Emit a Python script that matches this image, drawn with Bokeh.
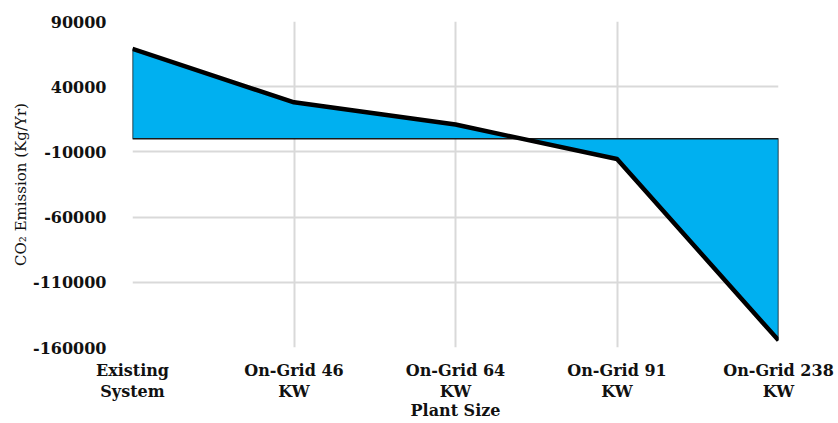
from bokeh.plotting import figure
from bokeh.models import FixedTicker, Range1d
from bokeh.embed import file_html
from bokeh.resources import INLINE

categories = ["Existing\nSystem", "On-Grid 46\nKW", "On-Grid 64\nKW", "On-Grid 91\nKW", "On-Grid 238\nKW"]
emissions = [69000, 28000, 11000, -15500, -154500]
y_ticks = [-160000, -110000, -60000, -10000, 40000, 90000]

xs = list(range(len(categories)))

p = figure(width=838, height=423, output_backend="svg", toolbar_location=None,
           x_range=Range1d(0, len(categories) - 1), y_range=Range1d(-160000, 90000),
           min_border_left=132, min_border_right=60, min_border_top=21, min_border_bottom=76)
p.outline_line_color = None

# area polygon between series and zero baseline
px = [xs[0]] + xs + [xs[-1]]
py = [0] + emissions + [0]
p.patch(px, py, fill_color="#00B0F0", line_color="#1a1a1a", line_width=1.5)
p.line(xs, emissions, line_color="black", line_width=4.5, line_join="round")

FONT = "DejaVu Serif"
p.xaxis.ticker = FixedTicker(ticks=xs)
p.xaxis.major_label_overrides = {i: c for i, c in enumerate(categories)}
p.yaxis.ticker = FixedTicker(ticks=y_ticks)
p.yaxis.major_label_overrides = {t: str(t) for t in y_ticks}

for ax in (p.xaxis[0], p.yaxis[0]):
    ax.axis_line_color = None
    ax.major_tick_line_color = None
    ax.minor_tick_line_color = None
    ax.major_label_text_font = FONT
    ax.major_label_text_font_style = "bold"
    ax.major_label_text_font_size = "16px"
    ax.major_label_text_color = "#111111"
    ax.axis_label_text_font = FONT
    ax.axis_label_text_color = "#111111"

p.xaxis.major_label_text_line_height = 1.15
p.yaxis.major_label_standoff = 20
p.xaxis.major_label_standoff = 7
p.xaxis.axis_label = "Plant Size"
p.xaxis.axis_label_text_font_style = "bold"
p.xaxis.axis_label_text_font_size = "16px"
p.xaxis.axis_label_standoff = -3
p.yaxis.axis_label = "CO\u2082 Emission (Kg/Yr)"
p.yaxis.axis_label_text_font_style = "normal"
p.yaxis.axis_label_text_font_size = "15px"
p.yaxis.axis_label_standoff = 0

p.xgrid.ticker = FixedTicker(ticks=xs)
p.ygrid.ticker = FixedTicker(ticks=y_ticks)
for g in (p.xgrid[0], p.ygrid[0]):
    g.grid_line_color = "#d9d9d9"
    g.grid_line_width = 2
p.xgrid.level = "underlay"
p.ygrid.level = "underlay"

open("out.html", "w").write(file_html(p, INLINE))
